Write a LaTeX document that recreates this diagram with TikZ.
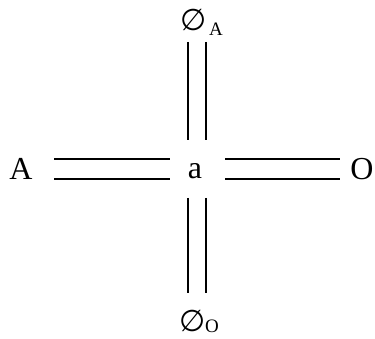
\documentclass[tikz,border=0pt]{standalone}
\usepackage{fontspec}
\setmainfont{Liberation Serif}
\newfontfamily\symfont{DejaVu Sans}
\begin{document}
\begin{tikzpicture}[x=1pt,y=-1pt,
  lbl/.style={inner sep=0pt,anchor=base,font=\fontsize{32}{32}\selectfont},
  sub/.style={inner sep=0pt,anchor=base,font=\fontsize{19}{19}\selectfont},
  esym/.style={inner sep=0pt,anchor=base,font=\symfont\fontsize{30}{30}\selectfont},
  bond/.style={line width=1.3pt}]
\useasboundingbox (0,0) rectangle (375,339);
\node[lbl] (A) at (21,180) {A};
\node[lbl] (a) at (195,179) {a};
\node[lbl] (O) at (362,180) {O};
\node[esym] (eA) at (194,31) {∅};
\node[sub] (sA) at (216,36) {A};
\node[esym] (eO) at (193,331) {∅};
\node[sub] (sO) at (212,332) {O};
% left bond
\coordinate (l1) at (54,159); \coordinate (l2) at (170,159);
\coordinate (l3) at (54,179); \coordinate (l4) at (170,179);
\draw[bond] (l1) -- (l2); \draw[bond] (l3) -- (l4);
% right bond
\coordinate (r1) at (225,159); \coordinate (r2) at (340,159);
\coordinate (r3) at (225,179); \coordinate (r4) at (340,179);
\draw[bond] (r1) -- (r2); \draw[bond] (r3) -- (r4);
% top bond
\coordinate (t1) at (188,42); \coordinate (t2) at (188,140);
\coordinate (t3) at (206,42); \coordinate (t4) at (206,140);
\draw[bond] (t1) -- (t2); \draw[bond] (t3) -- (t4);
% bottom bond
\coordinate (b1) at (188,198); \coordinate (b2) at (188,293);
\coordinate (b3) at (206,198); \coordinate (b4) at (206,293);
\draw[bond] (b1) -- (b2); \draw[bond] (b3) -- (b4);
\end{tikzpicture}
\end{document}
